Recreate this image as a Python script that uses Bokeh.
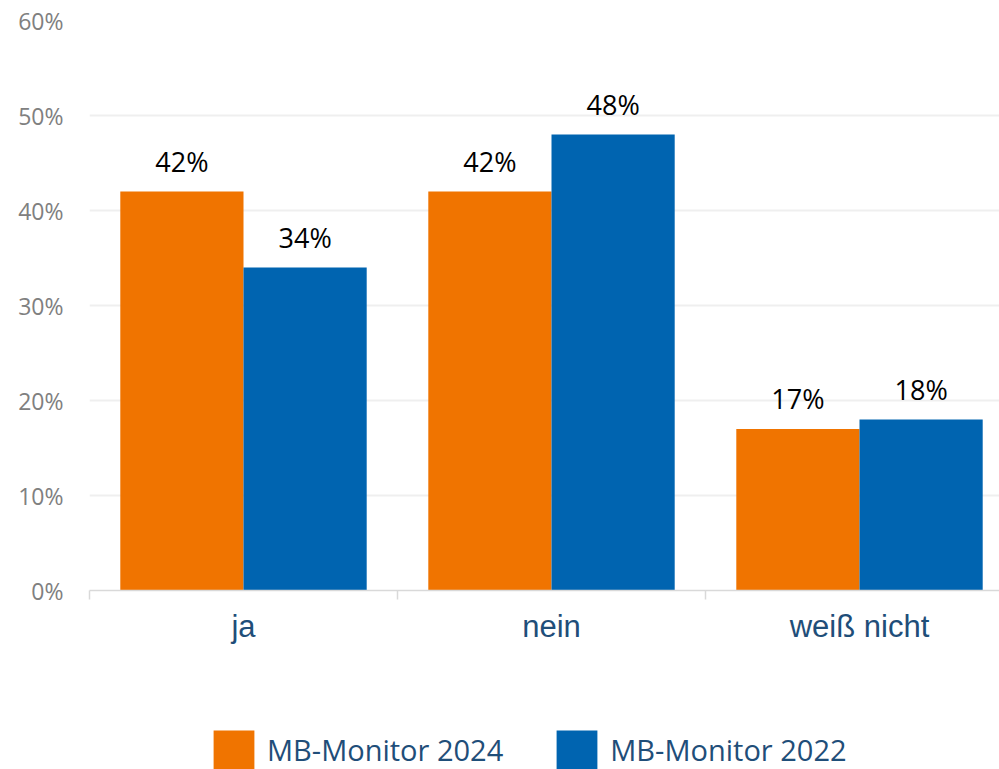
from bokeh.plotting import figure
from bokeh.layouts import column
from bokeh.models import (ColumnDataSource, FixedTicker, LabelSet, Legend, LegendItem, Range1d)
from bokeh.core.properties import value
from bokeh.embed import file_html
from bokeh.resources import INLINE

categories = ["ja", "nein", "weiß nicht"]
mb2024 = [42, 42, 17]
mb2022 = [34, 48, 18]
series_names = ["MB-Monitor 2024", "MB-Monitor 2022"]
y_ticks = [0, 10, 20, 30, 40, 50, 60]

ORANGE = "#F07400"
BLUE = "#0064B0"
COLORS = [ORANGE, BLUE]

n = len(categories)
centers = [i + 0.5 for i in range(n)]
bar_w = 0.4

src24 = ColumnDataSource(dict(x=[c - bar_w / 2 for c in centers], y=mb2024,
                              lbl=[f"{v}%" for v in mb2024]))
src22 = ColumnDataSource(dict(x=[c + bar_w / 2 for c in centers], y=mb2022,
                              lbl=[f"{v}%" for v in mb2022]))
sources = [src24, src22]

p = figure(width=999, height=700, output_backend="svg", toolbar_location=None,
           x_range=Range1d(0, 910 / 308), y_range=Range1d(0, 60),
           min_border_left=89, min_border_right=0, min_border_top=20,
           min_border_bottom=110)
p.outline_line_color = None
p.background_fill_color = "white"
p.border_fill_color = "white"

for src, col in zip(sources, COLORS):
    p.vbar(x="x", top="y", width=bar_w, source=src, fill_color=col, line_color=None)
    p.add_layout(LabelSet(x="x", y="y", text="lbl", source=src, text_align="center",
                          text_baseline="alphabetic", y_offset=20,
                          text_font=value("Open Sans"),
                          text_font_size="27px", text_color="#000000"))

# x axis
xa = p.xaxis[0]
xa.ticker = FixedTicker(ticks=centers, minor_ticks=list(range(n + 1)))
xa.major_label_overrides = {c: cat for c, cat in zip(centers, categories)}
xa.major_tick_out = 0
xa.major_tick_in = 0
xa.minor_tick_out = 9
xa.minor_tick_in = 0
xa.minor_tick_line_color = "#d9d9d9"
xa.minor_tick_line_width = 1.5
xa.axis_line_color = "#d9d9d9"
xa.axis_line_width = 1.5
xa.major_label_text_font = "Liberation Sans"
xa.major_label_text_font_size = "31px"
xa.major_label_text_color = "#1f4e79"
xa.major_label_standoff = 9

# y axis
ya = p.yaxis[0]
ya.ticker = FixedTicker(ticks=y_ticks)
ya.major_label_overrides = {t: f"{t}%" for t in y_ticks}
ya.axis_line_color = None
ya.major_tick_line_color = None
ya.minor_tick_line_color = None
ya.major_label_text_font = "Open Sans"
ya.major_label_text_font_size = "23px"
ya.major_label_text_color = "#808080"
ya.major_label_standoff = 20

p.xgrid.grid_line_color = None
p.ygrid.grid_line_color = "#efefef"
p.ygrid.grid_line_width = 2

# legend strip (the bars drawn here fall outside its visible range)
lg = figure(width=999, height=69, output_backend="svg", toolbar_location=None,
            x_range=Range1d(0, 1), y_range=Range1d(100, 101),
            x_axis_type=None, y_axis_type=None, min_border=0)
lg.outline_line_color = None
lg.xgrid.grid_line_color = None
lg.ygrid.grid_line_color = None
items = []
for name, src, col in zip(series_names, sources, COLORS):
    r = lg.vbar(x="x", top="y", width=bar_w, source=src, fill_color=col, line_color=None)
    items.append(LegendItem(label=name, renderers=[r]))
legend = Legend(items=items, orientation="horizontal", location=(119, -5),
                glyph_width=51, glyph_height=49, label_standoff=8, spacing=48,
                label_text_font="Open Sans", label_text_font_size="29px",
                label_text_color="#1f4e79", padding=0, margin=0,
                border_line_color=None, background_fill_alpha=0)
lg.add_layout(legend)

layout = column(p, lg, spacing=0)
open("out.html", "w").write(file_html(layout, INLINE))
